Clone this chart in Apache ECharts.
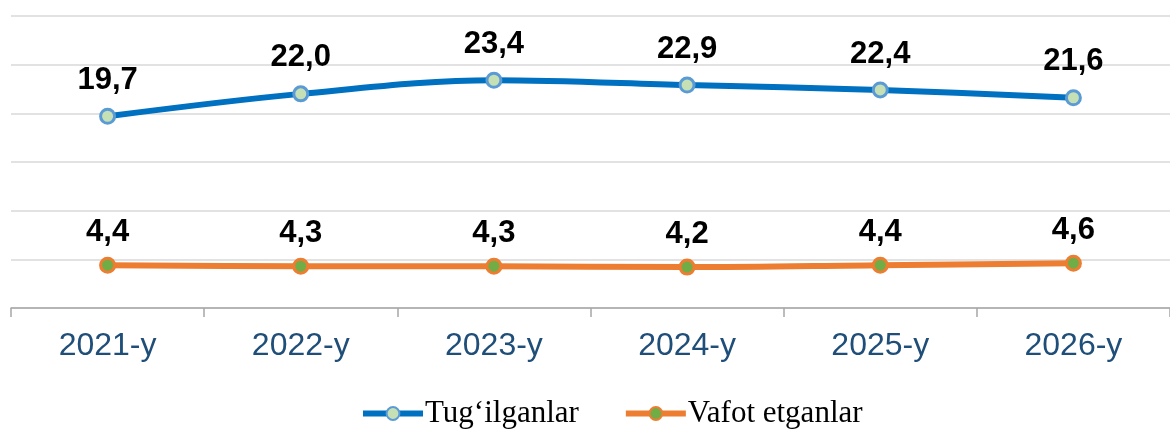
<!DOCTYPE html>
<html><head><meta charset="utf-8">
<script src="https://cdn.jsdelivr.net/npm/echarts@6/dist/echarts.min.js"></script>
<style>html,body{margin:0;padding:0;background:#fff}#c{width:1170px;height:429px}</style>
</head><body><div id="c"></div>
<script>
const categories = ['2021-y','2022-y','2023-y','2024-y','2025-y','2026-y'];
const born = [19.7, 22.0, 23.4, 22.9, 22.4, 21.6];
const died = [4.4, 4.3, 4.3, 4.2, 4.4, 4.6];
const seriesNames = ['Tug‘ilganlar', 'Vafot etganlar'];

const fmt = p => p.value.toFixed(1).replace('.', ',');
const chart = echarts.init(document.getElementById('c'));
chart.setOption({
  animation: false,
  grid: {left: 11, right: 0, top: 16, bottom: 121},
  legend: {
    top: 393, left: 355, itemWidth: 60, itemHeight: 16, itemGap: 44,
    textStyle: {fontFamily: 'Liberation Serif', fontSize: 31, color: '#000', padding: [0, 0, 0, -3]},
    lineStyle: {width: 6},
    data: seriesNames
  },
  xAxis: {
    type: 'category', data: categories, boundaryGap: true,
    axisLine: {lineStyle: {color: '#a6a6a6', width: 1.5}},
    axisTick: {show: true, length: 9, lineStyle: {color: '#a6a6a6', width: 1.5}},
    axisLabel: {fontFamily: 'Liberation Sans', fontSize: 32, color: '#1f4e79', margin: 22}
  },
  yAxis: {
    type: 'value', min: 0, max: 30, interval: 5,
    axisLine: {show: false}, axisTick: {show: false}, axisLabel: {show: false},
    splitLine: {lineStyle: {color: '#d9d9d9', width: 1.5}}
  },
  series: [
    {
      name: seriesNames[0], type: 'line', data: born, smooth: 0.35,
      lineStyle: {color: '#0070c0', width: 6},
      symbol: 'circle', symbolSize: 14,
      itemStyle: {color: '#c5e0b4', borderColor: '#5b9bd5', borderWidth: 3},
      label: {show: true, position: 'top', distance: 12, formatter: fmt,
        fontFamily: 'Liberation Sans', fontWeight: 'bold', fontSize: 31, color: '#000'}
    },
    {
      name: seriesNames[1], type: 'line', data: died, smooth: 0.35,
      lineStyle: {color: '#ed7d31', width: 6},
      symbol: 'circle', symbolSize: 14,
      itemStyle: {color: '#70ad47', borderColor: '#ed7d31', borderWidth: 3},
      label: {show: true, position: 'top', distance: 9, formatter: fmt,
        fontFamily: 'Liberation Sans', fontWeight: 'bold', fontSize: 31, color: '#000'}
    }
  ]
});
</script></body></html>
